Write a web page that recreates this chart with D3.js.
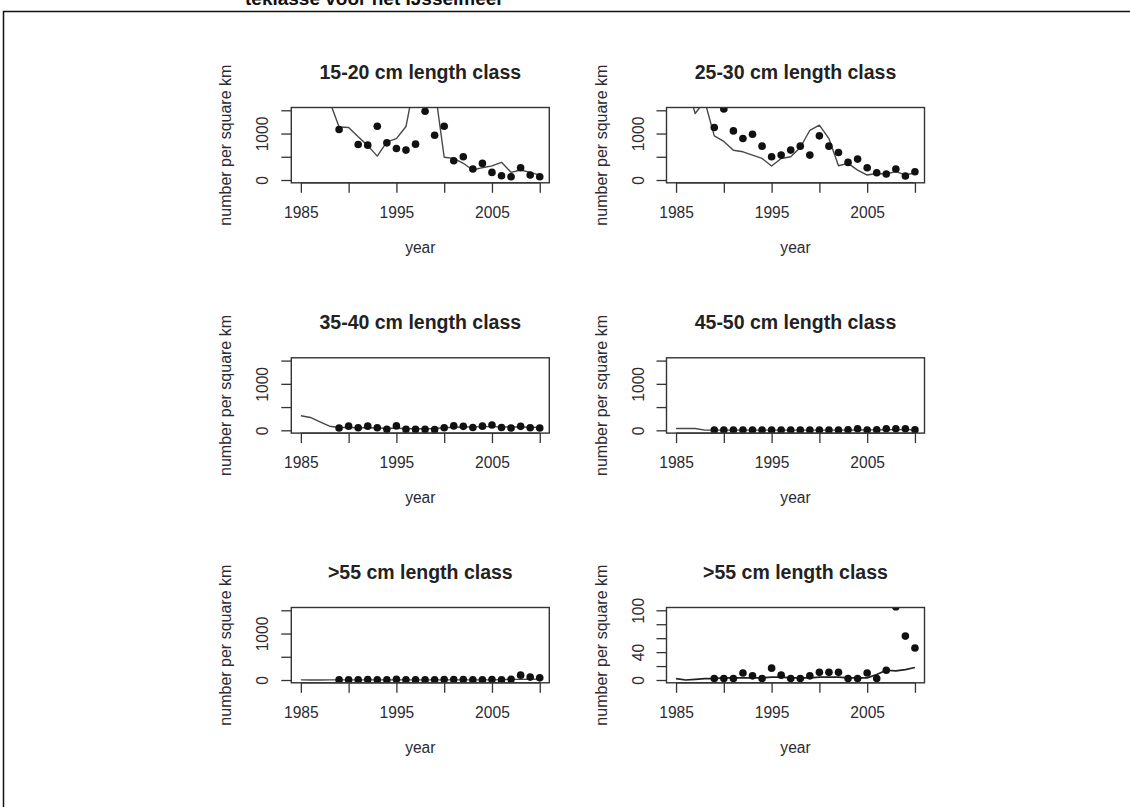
<!DOCTYPE html>
<html>
<head>
<meta charset="utf-8">
<script src="https://cdn.jsdelivr.net/npm/d3@7"></script>
<style>
  body { margin: 0; background: #fff; }
  text { font-family: "Liberation Sans", Arial, sans-serif; }
</style>
</head>
<body>
<svg id="chart" width="1130" height="807"></svg>
<script>
// Model years (line) and survey years (points)
const modelYears = [1985,1986,1987,1988,1989,1990,1991,1992,1993,1994,1995,1996,1997,
                    1998,1999,2000,2001,2002,2003,2004,2005,2006,2007,2008,2009,2010];
const surveyYears = [1989,1990,1991,1992,1993,1994,1995,1996,1997,1998,1999,
                     2000,2001,2002,2003,2004,2005,2006,2007,2008,2009,2010];

// Estimated density (number per square km), model fit per length class
const model15_20 = [3200,2800,2300,1700,1140,1130,930,740,514,820,890,1150,2200,
                    2600,2000,490,465,360,215,265,305,380,165,215,165,105];
const model25_30 = [2600,2150,1430,1700,950,830,640,607,536,464,300,464,500,
                    700,1070,1180,890,307,357,214,107,140,130,180,110,150];
const model35_40 = [313,276,182,88,60,60,55,55,50,45,45,40,35,
                    35,40,55,65,70,75,80,80,75,70,70,65,60];
const model45_50 = [38,38,38,5,5,5,5,5,5,5,5,5,5,
                    5,5,5,5,5,5,8,10,10,12,15,15,12];
const model55 = [2,0,1,2,2,3,3,3,3,3,4,4,3,
                 3,3,4,4,4,3,3,3,8,14,13,15,18];

// Survey observations per length class
const survey15_20 = [1086,1900,765,750,1157,800,679,643,771,1478,964,
                     1157,414,500,236,357,164,93,71,264,107,71];
const survey25_30 = [1129,1530,1057,893,986,729,500,536,643,729,536,
                     950,729,593,379,450,264,157,129,236,86,179];
const survey35_40 = [50,90,55,90,55,20,95,20,20,20,15,
                     55,95,85,60,90,115,60,50,85,55,50];
const survey45_50 = [5,5,5,5,5,5,5,5,5,5,5,
                     5,5,5,10,35,5,10,35,35,35,10];
const survey55 = [2,2,2,10,6,2,17,7,2,2,6,
                  11,11,11,2,2,10,2,14,105,63,46];

// Panel titles
const titles = ["15-20 cm length class", "25-30 cm length class",
                "35-40 cm length class", "45-50 cm length class",
                ">55 cm length class", ">55 cm length class"];

// Axis ticks and the labels printed beside them
const xTicks = [1985,1990,1995,2000,2005,2010];
const xLabels = [1985,1995,2005];
const yTicksWide = [0,500,1000,1500];
const yLabelsWide = [0,1000];
const yLimWide = [0,1500];
const yTicksNarrow = [0,20,40,60,80,100];
const yLabelsNarrow = [0,40,100];
const yLimNarrow = [0,100];

const xLabel = "year";
const yLabel = "number per square km";
const captionLine = "teklasse voor het IJsselmeer";

const panels = [
  {title: titles[0], model: model15_20, survey: survey15_20, narrow: false},
  {title: titles[1], model: model25_30, survey: survey25_30, narrow: false},
  {title: titles[2], model: model35_40, survey: survey35_40, narrow: false},
  {title: titles[3], model: model45_50, survey: survey45_50, narrow: false},
  {title: titles[4], model: model55,    survey: survey55,    narrow: false},
  {title: titles[5], model: model55,    survey: survey55,    narrow: true}
];

const svg = d3.select("#chart");

// Page frame and the tail of the caption above it
svg.append("path")
  .attr("d", "M1130,11.5 H3.5 V807")
  .attr("fill", "none").attr("stroke", "#111").attr("stroke-width", 1.5);
svg.append("text")
  .attr("x", 245).attr("y", 5)
  .attr("font-size", 19).attr("font-weight", "bold").attr("fill", "#111")
  .text(captionLine);

// Grid of plot boxes (3 rows x 2 columns)
const colLeft = [291.3, 666.5];
const boxW = 258;
const rowTop = [107.5, 357.8, 607.5];
const boxH = 75.3;

const ink = "#333";
const pad = v => (v[1] - v[0]) * 0.04;

panels.forEach((p, i) => {
  const col = i % 2, row = Math.floor(i / 2);
  const left = colLeft[col], top = rowTop[row];
  const yLim = p.narrow ? yLimNarrow : yLimWide;
  const yTicks = p.narrow ? yTicksNarrow : yTicksWide;
  const yLabels = p.narrow ? yLabelsNarrow : yLabelsWide;

  const xExt = [modelYears[0], modelYears[modelYears.length - 1]];
  const x = d3.scaleLinear()
    .domain([xExt[0] - pad(xExt), xExt[1] + pad(xExt)])
    .range([0, boxW]);
  const y = d3.scaleLinear()
    .domain([yLim[0] - pad(yLim), yLim[1] + pad(yLim)])
    .range([boxH, 0]);

  const g = svg.append("g").attr("transform", `translate(${left},${top})`);

  const clipId = "clip" + i;
  g.append("clipPath").attr("id", clipId)
    .append("rect").attr("width", boxW).attr("height", boxH);

  const plot = g.append("g").attr("clip-path", `url(#${clipId})`);

  // model line
  const line = d3.line().x((d, k) => x(modelYears[k])).y(d => y(d));
  plot.append("path")
    .datum(p.model)
    .attr("d", line)
    .attr("fill", "none")
    .attr("stroke", p.narrow ? "#222" : "#474747")
    .attr("stroke-width", p.narrow ? 1.7 : 1.4)
    .attr("stroke-linejoin", "round");

  // survey points
  plot.selectAll("circle")
    .data(p.survey)
    .join("circle")
    .attr("cx", (d, k) => x(surveyYears[k]))
    .attr("cy", d => y(d))
    .attr("r", 3.8)
    .attr("fill", "#111");

  // x axis
  const xAxis = g.append("g")
    .attr("transform", `translate(0,${boxH})`)
    .call(d3.axisBottom(x).tickValues(xTicks).tickSize(10).tickSizeOuter(0)
      .tickFormat(v => xLabels.includes(v) ? String(v) : ""));
  xAxis.select(".domain").remove();
  xAxis.selectAll(".tick line").attr("stroke", ink).attr("stroke-width", 1.3);
  xAxis.selectAll(".tick text")
    .attr("y", 35).attr("dy", 0)
    .attr("font-size", 15.6).attr("fill", "#2b2b33")
    .style("font-family", "'Liberation Sans', Arial, sans-serif");
  g.append("line")
    .attr("x1", x(xTicks[0])).attr("x2", x(xTicks[xTicks.length - 1]))
    .attr("y1", boxH).attr("y2", boxH)
    .attr("stroke", ink).attr("stroke-width", 1.3);

  // y axis
  const yAxis = g.append("g")
    .call(d3.axisLeft(y).tickValues(yTicks).tickSize(10).tickSizeOuter(0)
      .tickFormat(v => yLabels.includes(v) ? String(v) : ""));
  yAxis.select(".domain").remove();
  yAxis.selectAll(".tick line").attr("stroke", ink).attr("stroke-width", 1.3);
  yAxis.selectAll(".tick text")
    .attr("transform", "rotate(-90)")
    .attr("x", 0).attr("y", -23).attr("dy", 0)
    .attr("text-anchor", "middle")
    .attr("font-size", 15.6).attr("fill", "#2b2b33")
    .style("font-family", "'Liberation Sans', Arial, sans-serif");

  // plot box
  g.append("rect")
    .attr("width", boxW).attr("height", boxH)
    .attr("fill", "none").attr("stroke", ink).attr("stroke-width", 1.4);

  // title
  g.append("text")
    .attr("x", boxW / 2).attr("y", -29)
    .attr("text-anchor", "middle")
    .attr("font-size", 19.5).attr("font-weight", "bold").attr("fill", "#222")
    .text(p.title);

  // axis titles
  g.append("text")
    .attr("x", boxW / 2).attr("y", boxH + 70)
    .attr("text-anchor", "middle")
    .attr("font-size", 15.6).attr("fill", "#2b2b33")
    .text(xLabel);
  g.append("text")
    .attr("transform", `translate(-60,${boxH / 2}) rotate(-90)`)
    .attr("text-anchor", "middle")
    .attr("font-size", 16).attr("fill", "#2b2b33")
    .text(yLabel);
});
</script>
</body>
</html>
